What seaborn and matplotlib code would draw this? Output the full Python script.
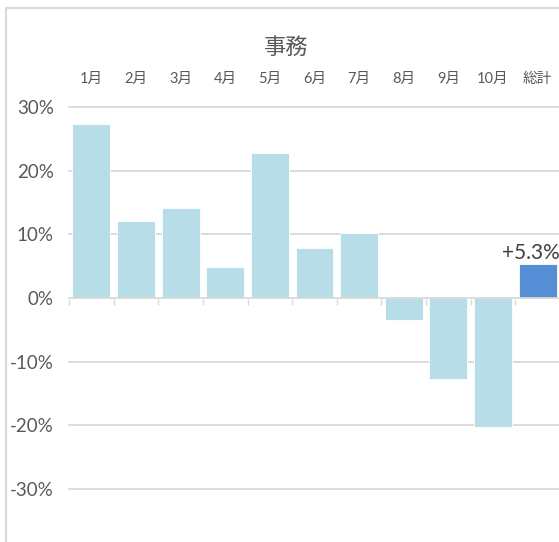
import matplotlib
matplotlib.use("Agg")
import matplotlib.pyplot as plt
import seaborn as sns
import numpy as np
import pandas as pd
from matplotlib.patches import Rectangle
import matplotlib.transforms as mtransforms

# ---- data ----
categories = ["1月", "2月", "3月", "4月", "5月", "6月", "7月", "8月", "9月", "10月", "総計"]
values = [0.273, 0.121, 0.141, 0.048, 0.228, 0.078, 0.102, -0.035, -0.128, -0.203, 0.053]
bar_colors = ["#b7dde8"] * 10 + ["#558ed5"]
title = "事務"
total_label = "+5.3%"
y_ticks = [-0.3, -0.2, -0.1, 0.0, 0.1, 0.2, 0.3]
y_tick_labels = ["-30%", "-20%", "-10%", "0%", "10%", "20%", "30%"]

sns.set_theme(style="white")
plt.rcParams["font.family"] = ["Lato", "Noto Sans CJK JP", "DejaVu Sans"]

W, H = 559, 542
fig = plt.figure(figsize=(W / 100, H / 100), dpi=100)
fig.patch.set_facecolor("white")

# axes in pixel coordinates: x 69..560, y(top)=107 (30%) .. 489 (-30%)
left, right = 69, 560
top, bottom = 107, 489
ax = fig.add_axes([left / W, (H - bottom) / H, (right - left) / W, (bottom - top) / H])

df = pd.DataFrame({"cat": categories, "val": values})
sns.barplot(data=df, x="cat", y="val", hue="cat", palette=bar_colors,
            width=0.85, legend=False, ax=ax, edgecolor="white", linewidth=0.6,
            saturation=1)

ax.set_xlim(-0.5, len(categories) - 0.5)
ax.set_ylim(-0.3, 0.3)

# gridlines
ax.set_yticks(y_ticks)
ax.set_yticklabels(y_tick_labels)
for yv in y_ticks:
    if yv != 0:
        ax.axhline(yv, color="#d9d9d9", lw=1.3, zorder=0, clip_on=False)
ax.axhline(0, color="#d9d9d9", lw=1.3, zorder=3, clip_on=False)

# category boundary ticks on the zero line
tick_off = mtransforms.offset_copy(ax.transData, fig=fig, x=0, y=-4, units="dots")
for xb in np.arange(-0.5, len(categories) - 0.5, 1.0):
    ax.plot([xb], [0], marker="|", markersize=5, color="#d9d9d9",
            transform=tick_off, clip_on=False, zorder=3)

for s in ax.spines.values():
    s.set_visible(False)

ax.tick_params(axis="y", length=0, pad=11, labelsize=13.5, labelcolor="#595959")
ax.xaxis.tick_top()
ax.tick_params(axis="x", length=0, pad=15, labelsize=10.5, labelcolor="#595959")
ax.set_xlabel("")
ax.set_ylabel("")

# title
fig.text(286 / W, 1 - 47 / H, title, ha="center", va="center",
         fontsize=16, color="#595959")

# data label on total bar
ax.annotate(total_label, xy=(len(categories) - 1, values[-1]), xytext=(-5, 1),
            textcoords="offset points", ha="center", va="bottom",
            fontsize=15, color="#404040")

# chart frame (cropped: only left and top visible)
fig.add_artist(Rectangle((6 / W, -0.1), 1.2, 1 - 8 / H + 0.1,
                         transform=fig.transFigure, fill=False,
                         edgecolor="#d9d9d9", lw=1.5))

fig.savefig("out.png", dpi=100, facecolor="white")
